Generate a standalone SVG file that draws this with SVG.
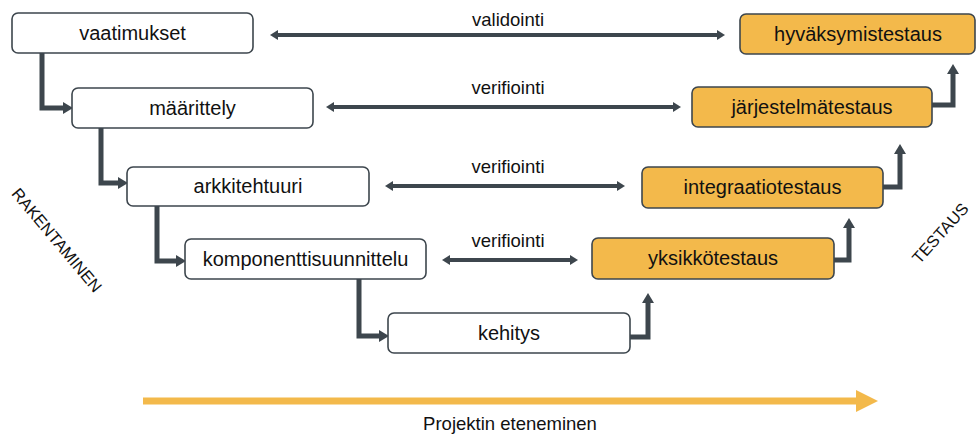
<svg xmlns="http://www.w3.org/2000/svg" width="976" height="435" viewBox="0 0 976 435">
<style>
.box{fill:#fff;stroke:#3d464d;stroke-width:1.6}
.test{fill:#f3b94b;stroke:#3d464d;stroke-width:1.6}
.lbl{font-family:"Liberation Sans",Arial,sans-serif;font-size:20px;fill:#111;text-anchor:middle}
.rel{font-family:"Liberation Sans",Arial,sans-serif;font-size:18.5px;fill:#111;text-anchor:middle}
.side{font-family:"Liberation Sans",Arial,sans-serif;font-size:16.5px;fill:#111;text-anchor:middle}
.foot{font-family:"Liberation Sans",Arial,sans-serif;font-size:18.5px;fill:#111;text-anchor:middle}
.elbow{fill:none;stroke:#3d464d;stroke-width:5;stroke-linejoin:miter}
.dbl{fill:none;stroke:#3d464d;stroke-width:4}
</style>
<defs>
<marker id="ah" markerUnits="userSpaceOnUse" viewBox="0 0 10 12" markerWidth="10" markerHeight="12" refX="0" refY="6" orient="auto"><path d="M0,0 L10,6 L0,12 Z" fill="#3d464d"/></marker>
<marker id="dh" markerUnits="userSpaceOnUse" viewBox="0 0 8 10" markerWidth="8" markerHeight="10" refX="0" refY="5" orient="auto-start-reverse"><path d="M0,0 L8,5 L0,10 Z" fill="#3d464d"/></marker>
</defs>

<g id="connectors">
<path class="elbow" d="M42,53 V108 H63" marker-end="url(#ah)"/>
<path class="elbow" d="M101,128 V183 H118" marker-end="url(#ah)"/>
<path class="elbow" d="M157,206 V261 H176" marker-end="url(#ah)"/>
<path class="elbow" d="M359,279 V336 H379" marker-end="url(#ah)"/>
<path class="elbow" d="M630,337 H648 V303" marker-end="url(#ah)"/>
<path class="elbow" d="M834,260 H849 V228" marker-end="url(#ah)"/>
<path class="elbow" d="M883,187 H900 V154" marker-end="url(#ah)"/>
<path class="elbow" d="M932,105 H953 V74" marker-end="url(#ah)"/>
<path class="dbl" d="M278,35 H717" marker-start="url(#dh)" marker-end="url(#dh)"/>
<path class="dbl" d="M334,107 H673" marker-start="url(#dh)" marker-end="url(#dh)"/>
<path class="dbl" d="M393,186 H617" marker-start="url(#dh)" marker-end="url(#dh)"/>
<path class="dbl" d="M450,260 H570" marker-start="url(#dh)" marker-end="url(#dh)"/>
<text class="rel" x="508" y="26">validointi</text>
<text class="rel" x="508" y="94">verifiointi</text>
<text class="rel" x="508" y="173">verifiointi</text>
<text class="rel" x="508" y="247">verifiointi</text>
</g>

<g id="vaatimukset"><rect class="box" x="12" y="13" width="241" height="40" rx="6"/><text class="lbl" x="132.5" y="40">vaatimukset</text></g>
<g id="maarittely"><rect class="box" x="72" y="88" width="241" height="40" rx="6"/><text class="lbl" x="192.5" y="115">määrittely</text></g>
<g id="arkkitehtuuri"><rect class="box" x="127" y="167" width="242" height="39" rx="6"/><text class="lbl" x="248" y="193">arkkitehtuuri</text></g>
<g id="komponenttisuunnittelu"><rect class="box" x="185" y="239" width="241" height="40" rx="6"/><text class="lbl" x="305.5" y="266">komponenttisuunnittelu</text></g>
<g id="kehitys"><rect class="box" x="388" y="313" width="242" height="40" rx="6"/><text class="lbl" x="509" y="340">kehitys</text></g>

<g id="hyvaksymistestaus"><rect class="test" x="740" y="14" width="235" height="40" rx="6"/><text class="lbl" x="858" y="41">hyväksymistestaus</text></g>
<g id="jarjestelmatestaus"><rect class="test" x="692" y="87" width="240" height="40" rx="6"/><text class="lbl" x="812" y="114">järjestelmätestaus</text></g>
<g id="integraatiotestaus"><rect class="test" x="642" y="167" width="241" height="41" rx="6"/><text class="lbl" x="762.5" y="194">integraatiotestaus</text></g>
<g id="yksikkotestaus"><rect class="test" x="592" y="238" width="242" height="41" rx="6"/><text class="lbl" x="713" y="265">yksikkötestaus</text></g>

<g id="rakentaminen"><text class="side" transform="translate(57,240) rotate(50)" y="6">RAKENTAMINEN</text></g>
<g id="testaus"><text class="side" transform="translate(940,233) rotate(-48)" y="6">TESTAUS</text></g>

<g id="progress">
<path d="M143,401 H858" stroke="#f3b94b" stroke-width="7" fill="none"/>
<path d="M856,390 L878,401 L856,412 Z" fill="#f3b94b"/>
<text class="foot" x="510" y="430">Projektin eteneminen</text>
</g>
</svg>
